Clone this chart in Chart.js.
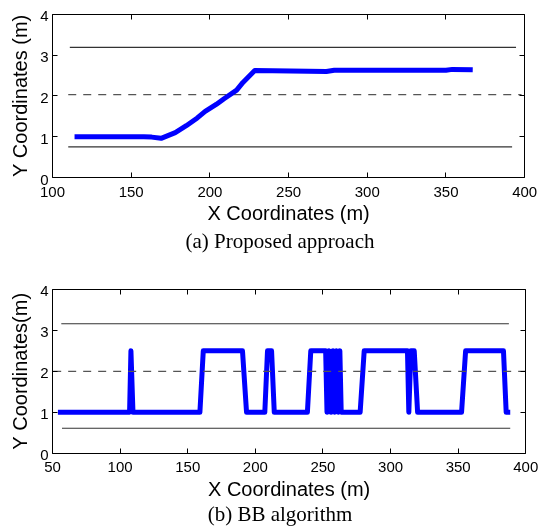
<!DOCTYPE html>
<html>
<head>
<meta charset="utf-8">
<script src="https://cdn.jsdelivr.net/npm/chart.js@4.4.0/dist/chart.umd.min.js"></script>
<style>
  body { margin: 0; background: #fff; width: 544px; height: 531px; position: relative; overflow: hidden; }
  canvas { position: absolute; left: 0; }
  #chartA { top: 0; }
  #chartB { top: 270px; }
  .caption { position: absolute; left: 0; width: 560px; text-align: center; color: #000;
             font: 21px/21px "Liberation Serif", "Times New Roman", serif; }
</style>
</head>
<body>
<canvas id="chartA" width="544" height="232"></canvas>
<div class="caption" style="top:231px">(a) Proposed approach</div>
<canvas id="chartB" width="544" height="245"></canvas>
<div class="caption" style="top:504px">(b) BB algorithm</div>
<script>
const sansFont = '"Liberation Sans", Arial, Helvetica, sans-serif';

// tick labels
const yTicks = [0, 1, 2, 3, 4];
const xTicksA = [100, 150, 200, 250, 300, 350, 400];
const xTicksB = [50, 100, 150, 200, 250, 300, 350, 400];

// (a) proposed approach - vehicle path
const pathAX = [114, 158, 163, 169, 178, 185, 192, 197, 204, 209, 217, 221, 228.5, 274, 279, 350, 354, 367];
const pathAY = [1.0, 1.0, 0.99, 0.96, 1.1, 1.27, 1.46, 1.62, 1.79, 1.93, 2.14, 2.33, 2.62, 2.6, 2.63, 2.63, 2.65, 2.64];
// (a) road edges and centre line
const edgeTopAX = [111, 394.5];
const edgeTopAY = [3.19, 3.19];
const centreAX = [110, 398];
const centreAY = [2.03, 2.03];
const edgeLowAX = [110, 392];
const edgeLowAY = [0.75, 0.75];

// (b) BB algorithm - vehicle path
const pathBX = [54, 107, 108, 109.5, 159, 161.5, 190.5, 193.5, 207, 209, 212, 214, 238.5, 241, 252, 253, 254.5, 256,
                257.5, 258.5, 260, 261.5, 262.5, 263.5, 277.5, 280.5, 312.5, 313.5, 315, 317.5, 320, 352.5, 355.5,
                383.5, 385.5, 388.5];
const pathBY = [1, 1, 2.5, 1, 1, 2.5, 2.5, 1, 1, 2.5, 2.5, 1, 1, 2.5, 2.5, 1, 2.5, 1,
                2.5, 1, 2.5, 1, 2.5, 1, 1, 2.5, 2.5, 1, 2.5, 2.5, 1, 1, 2.5,
                2.5, 1, 1];
// (b) road edges and centre line
const edgeTopBX = [56.5, 387.5];
const edgeTopBY = [3.16, 3.16];
const centreBX = [50.5, 399.5];
const centreBY = [2.0, 2.0];
const edgeLowBX = [57, 388.5];
const edgeLowBY = [0.61, 0.61];

const pts = (xs, ys) => xs.map((x, i) => ({ x: x, y: ys[i] }));

const pathSet = (xs, ys) => ({ data: pts(xs, ys), showLine: true, borderColor: '#0000ff', borderWidth: 5,
  pointRadius: 0, borderJoinStyle: 'round', borderCapStyle: 'butt' });
const edgeSet = (xs, ys) => ({ data: pts(xs, ys), showLine: true, borderColor: '#333', borderWidth: 1.1, pointRadius: 0 });
const centreSet = (xs, ys) => ({ data: pts(xs, ys), showLine: true, borderColor: '#555', borderWidth: 1.3,
  borderDash: [8, 7], pointRadius: 0 });

// box around the plot and inward ticks on all four sides (matlab style)
const boxTicks = {
  id: 'boxTicks',
  afterDraw(chart) {
    const { ctx, chartArea: a, scales } = chart;
    const snap = v => Math.floor(v) + 0.5;
    const L = snap(a.left), R = snap(a.right), T = snap(a.top), B = snap(a.bottom);
    const len = 5;
    ctx.save();
    ctx.strokeStyle = '#000';
    ctx.lineWidth = 1;
    ctx.beginPath();
    ctx.rect(L, T, R - L, B - T);
    scales.x.ticks.forEach(t => {
      const px = snap(scales.x.getPixelForValue(t.value));
      ctx.moveTo(px, B); ctx.lineTo(px, B - len);
      ctx.moveTo(px, T); ctx.lineTo(px, T + len);
    });
    scales.y.ticks.forEach(t => {
      const py = snap(scales.y.getPixelForValue(t.value));
      ctx.moveTo(L, py); ctx.lineTo(L + len, py);
      ctx.moveTo(R, py); ctx.lineTo(R - len, py);
    });
    ctx.stroke();
    ctx.restore();
  }
};

function buildChart(canvasId, o) {
  return new Chart(document.getElementById(canvasId), {
    type: 'scatter',
    data: { datasets: o.datasets },
    options: {
      responsive: false,
      animation: false,
      layout: { padding: { left: 0, right: 13.5, top: o.top, bottom: 0 } },
      plugins: { legend: { display: false }, tooltip: { enabled: false } },
      scales: {
        x: {
          type: 'linear',
          min: o.xTicks[0],
          max: o.xTicks[o.xTicks.length - 1],
          afterBuildTicks: s => { s.ticks = o.xTicks.map(v => ({ value: v })); },
          afterFit: s => { s.height = o.xAxisHeight; },
          grid: { display: false, drawTicks: false },
          border: { display: false },
          ticks: { padding: o.tickPad, color: '#000', maxRotation: 0, autoSkip: false,
                   font: { family: sansFont, size: 15 } },
          title: { display: true, text: 'X Coordinates (m)', color: '#000',
                   font: { family: sansFont, size: 20 }, padding: { top: 0, bottom: o.titlePad } }
        },
        y: {
          type: 'linear',
          min: 0,
          max: 4,
          afterBuildTicks: s => { s.ticks = yTicks.map(v => ({ value: v })); },
          afterFit: s => { s.width = 52.5; },
          grid: { display: false, drawTicks: false },
          border: { display: false },
          ticks: { padding: 4, labelOffset: 3, color: '#000', font: { family: sansFont, size: 15 } },
          title: { display: true, text: o.yTitle, color: '#000',
                   font: { family: sansFont, size: 20 }, padding: { top: 9, bottom: 0 } }
        }
      }
    },
    plugins: [boxTicks]
  });
}

buildChart('chartA', {
  top: 14.3, xAxisHeight: 54.5, tickPad: 6.8, titlePad: 6,
  xTicks: xTicksA, yTitle: 'Y Coordinates (m)',
  datasets: [
    pathSet(pathAX, pathAY),
    centreSet(centreAX, centreAY),
    edgeSet(edgeTopAX, edgeTopAY),
    edgeSet(edgeLowAX, edgeLowAY)
  ]
});

buildChart('chartB', {
  top: 19.3, xAxisHeight: 61.7, tickPad: 5.7, titlePad: 13,
  xTicks: xTicksB, yTitle: 'Y Coordinates(m)',
  datasets: [
    centreSet(centreBX, centreBY),
    pathSet(pathBX, pathBY),
    edgeSet(edgeTopBX, edgeTopBY),
    edgeSet(edgeLowBX, edgeLowBY)
  ]
});
</script>
</body>
</html>
